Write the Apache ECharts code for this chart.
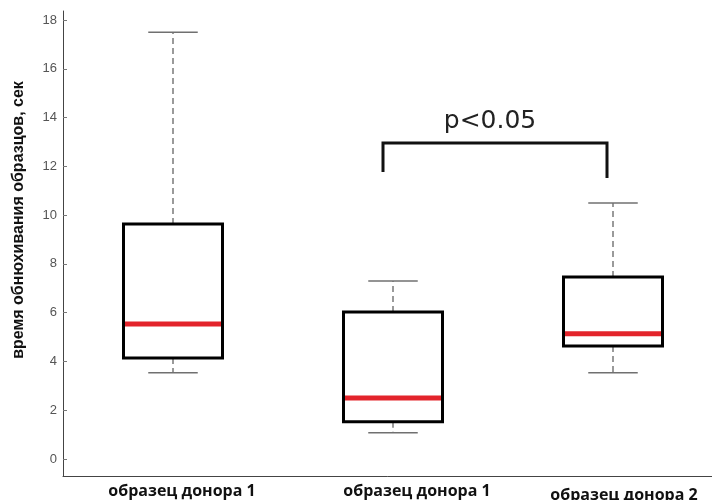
<!DOCTYPE html>
<html>
  <head>
    <meta charset="utf-8" />
    <title>Boxplot</title>
    <script src="https://cdn.jsdelivr.net/npm/echarts@6/dist/echarts.min.js"></script>
  </head>
  <body style="margin: 0">
    <div id="main" style="width: 712px; height: 500px"></div>
    <script type="text/javascript">
      var categories = ["образец донора 1", "образец донора 1", "образец донора 2"];
      var mins = [3.53, 1.07, 3.53];
      var q1s = [4.14, 1.52, 4.63];
      var medians = [5.53, 2.5, 5.13];
      var q3s = [9.63, 6.03, 7.46];
      var maxs = [17.5, 7.3, 10.5];
      var yTicks = [0, 2, 4, 6, 8, 10, 12, 14, 16, 18];

      // significance bracket between the 2nd and 3rd groups
      var bracketGroups = [1, 2];
      var bracketTop = 12.96;
      var bracketEnds = [11.77, 11.52];
      var bracketText = "p<0.05";

      var boxData = categories.map(function (c, i) {
        return [i, mins[i], q1s[i], medians[i], q3s[i], maxs[i]];
      });

      var myChart = echarts.init(document.getElementById("main"));

      function renderBox(params, api) {
        var x = api.value(0);
        var pMin = api.coord([x, api.value(1)]);
        var pQ1 = api.coord([x, api.value(2)]);
        var pMed = api.coord([x, api.value(3)]);
        var pQ3 = api.coord([x, api.value(4)]);
        var pMax = api.coord([x, api.value(5)]);
        var cx = pMed[0];
        var half = (api.size([1, 0])[0] * 0.45) / 2;
        var capHalf = half / 2;
        var whisker = { stroke: "#7a7a7a", lineWidth: 1.5, lineDash: [6, 4] };
        var cap = { stroke: "#707070", lineWidth: 1.5 };
        return {
          type: "group",
          children: [
            { type: "line", shape: { x1: cx, y1: pQ3[1], x2: cx, y2: pMax[1] }, style: whisker },
            { type: "line", shape: { x1: cx, y1: pQ1[1], x2: cx, y2: pMin[1] }, style: whisker },
            { type: "line", shape: { x1: cx - capHalf, y1: pMax[1], x2: cx + capHalf, y2: pMax[1] }, style: cap },
            { type: "line", shape: { x1: cx - capHalf, y1: pMin[1], x2: cx + capHalf, y2: pMin[1] }, style: cap },
            { type: "line", shape: { x1: cx - half, y1: pMed[1], x2: cx + half, y2: pMed[1] }, style: { stroke: "#e3242b", lineWidth: 5 } },
            {
              type: "rect",
              shape: { x: cx - half, y: pQ3[1], width: half * 2, height: pQ1[1] - pQ3[1] },
              style: { fill: null, stroke: "#000", lineWidth: 3 },
            },
          ],
        };
      }

      function renderBracket(params, api) {
        var a = api.coord([api.value(0), api.value(2)]);
        var b = api.coord([api.value(1), api.value(2)]);
        var aEnd = api.coord([api.value(0), api.value(3)]);
        var bEnd = api.coord([api.value(1), api.value(4)]);
        var xl = a[0] - 10;
        var xr = b[0] - 6;
        return {
          type: "group",
          children: [
            {
              type: "polyline",
              shape: { points: [[xl, aEnd[1]], [xl, a[1]], [xr, a[1]], [xr, bEnd[1]]] },
              style: { fill: null, stroke: "#111", lineWidth: 3 },
            },
            {
              type: "text",
              x: (xl + xr) / 2 - 5,
              y: a[1] - 9,
              style: {
                text: bracketText,
                fontFamily: "DejaVu Sans",
                fontSize: 25,
                fill: "#222",
                align: "center",
                verticalAlign: "bottom",
              },
            },
          ],
        };
      }

      var labelPads = [[0, 0, 0, 18], [0, 0, 0, 48], [4, 0, 0, 22]];

      var option = {
        animation: false,
        grid: { left: 63, top: 11, width: 660, height: 465, outerBoundsMode: "none", containLabel: false },
        graphic: [
          {
            type: "text",
            x: 19,
            y: 220,
            rotation: Math.PI / 2,
            style: {
              text: "время обнюхивания образцов, сек",
              fontFamily: "Liberation Sans",
              fontWeight: "bold",
              fontSize: 16,
              fill: "#111",
              align: "center",
              verticalAlign: "middle",
            },
          },
        ],
        xAxis: {
          type: "category",
          data: categories.map(function (c, i) {
            return { value: c, textStyle: { padding: labelPads[i] } };
          }),
          axisLine: { onZero: false, lineStyle: { color: "#444", width: 1 } },
          axisTick: { inside: true, length: 4, alignWithLabel: true, lineStyle: { color: "#888" } },
          axisLabel: {
            margin: 7,
            fontFamily: "Open Sans",
            fontWeight: "bold",
            fontSize: 16,
            color: "#111",
          },
        },
        yAxis: {
          type: "value",
          min: -0.7,
          max: 18.37,
          splitLine: { show: false },
          axisLine: { show: true, lineStyle: { color: "#444", width: 1 } },
          axisTick: { show: true, inside: true, length: 4, customValues: yTicks, lineStyle: { color: "#777" } },
          axisLabel: {
            customValues: yTicks,
            margin: 6,
            fontFamily: "Liberation Sans",
            fontSize: 13,
            color: "#555",
          },
        },
        series: [
          { type: "custom", renderItem: renderBox, data: boxData, clip: false },
          {
            type: "custom",
            renderItem: renderBracket,
            data: [[bracketGroups[0], bracketGroups[1], bracketTop, bracketEnds[0], bracketEnds[1]]],
            clip: false,
          },
        ],
      };

      myChart.setOption(option);
    </script>
  </body>
</html>
